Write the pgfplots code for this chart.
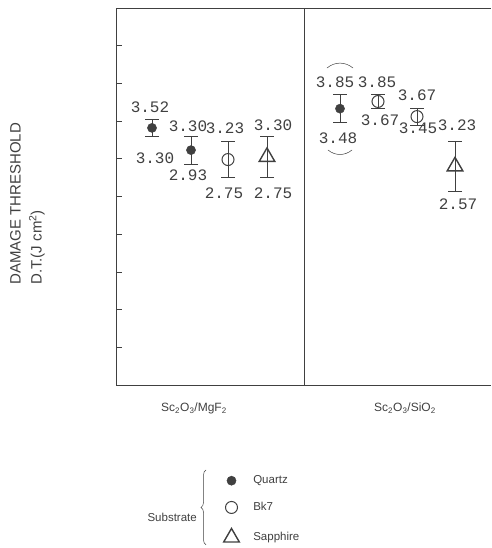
\documentclass[border=0pt]{standalone}
\usepackage{fontspec}
\setmainfont{Liberation Sans}
\newfontfamily\numfont{Liberation Mono}
\usepackage{pgfplots}
\pgfplotsset{compat=1.18}
\usetikzlibrary{decorations.pathreplacing}
\definecolor{ink}{gray}{0.25}
\begin{document}
\begin{tikzpicture}[lab/.style={font=\numfont\fontsize{16}{16}\selectfont, text=ink, inner sep=0pt}]
\path (0,0) rectangle (491pt,548pt);
\begin{axis}[
  at={(116pt,163pt)}, anchor=south west,
  scale only axis, width=375pt, height=377pt,
  xmin=116, xmax=491, ymin=0, ymax=5,
  axis lines=left, axis line style={-, ink, line width=0.7pt},
  clip=false,
  ytick={0.5,1,1.5,2,2.5,3,3.5,4,4.5}, yticklabels={},
  y tick style={ink, line width=0.7pt},
  ytick align=inside,
  major tick length=6pt,
  xtick={194,405},
  xticklabels={Sc\textsubscript{2}O\textsubscript{3}/MgF\textsubscript{2}, Sc\textsubscript{2}O\textsubscript{3}/SiO\textsubscript{2}},
  x tick style={draw=none},
  xticklabel style={font=\fontsize{12}{14}\selectfont, text=ink, yshift=-11pt},
  legend style={at={(axis description cs:0.2867,-0.238)}, anchor=north west,
    draw=none, fill=none, inner sep=0pt, row sep=15pt, column sep=13pt,
    font=\fontsize{11.5}{13}\selectfont, text=ink, nodes={inner sep=1pt}},
  legend cell align=left,
]
% Quartz
\addplot[only marks, mark=*, mark size=4.6pt, ink, mark options={fill=ink, draw=ink},
  error bars/.cd, y dir=both, y explicit,
  error bar style={line width=0.6pt, ink},
  error mark options={rotate=90, mark size=7pt, line width=0.6pt, ink}]
 coordinates {(152,3.41) +- (0,0.11) (191,3.115) +- (0,0.185) (340,3.665) +- (0,0.185)};
\addlegendentry{Quartz}
% Bk7
\addplot[only marks, mark=o, mark size=6pt, ink, mark options={line width=1pt, draw=ink, fill=none},
  error bars/.cd, y dir=both, y explicit,
  error bar style={line width=0.6pt, ink},
  error mark options={rotate=90, mark size=7pt, line width=0.6pt, ink}]
 coordinates {(228,2.99) +- (0,0.24) (378,3.76) +- (0,0.09) (417,3.56) +- (0,0.11)};
\addlegendentry{Bk7}
% Sapphire
\addplot[only marks, mark=triangle, mark size=9pt, ink, mark options={line width=1.4pt, draw=ink, fill=none},
  error bars/.cd, y dir=both, y explicit,
  error bar style={line width=0.6pt, ink},
  error mark options={rotate=90, mark size=7pt, line width=0.6pt, ink}]
 coordinates {(267,3.025) +- (0,0.275) (455,2.90) +- (0,0.33)};
\addlegendentry{Sapphire}
% frame parts
\draw[ink, line width=0.7pt] (rel axis cs:0,1) -- (rel axis cs:1,1);
\draw[ink, line width=0.6pt] (axis cs:304,0) -- (axis cs:304,5);
% value labels
\node[lab] at (axis cs:150,3.687) {3.52};
\node[lab] at (axis cs:155,3.011) {3.30};
\node[lab] at (axis cs:188,3.435) {3.30};
\node[lab] at (axis cs:188,2.785) {2.93};
\node[lab] at (axis cs:225,3.408) {3.23};
\node[lab] at (axis cs:224,2.546) {2.75};
\node[lab] at (axis cs:273,3.448) {3.30};
\node[lab] at (axis cs:273,2.546) {2.75};
\node[lab] at (axis cs:335,4.019) {3.85};
\node[lab] at (axis cs:338,3.276) {3.48};
\node[lab] at (axis cs:377,4.019) {3.85};
\node[lab] at (axis cs:380,3.515) {3.67};
\node[lab] at (axis cs:417,3.846) {3.67};
\node[lab] at (axis cs:418,3.40) {3.45};
\node[lab] at (axis cs:457,3.448) {3.23};
\node[lab] at (axis cs:458,2.401) {2.57};
% arcs
\draw[ink, line width=0.5pt] (axis cs:327,4.204) to[bend left=40] (axis cs:353,4.204);
\draw[ink, line width=0.5pt] (axis cs:328,3.117) to[bend right=40] (axis cs:352,3.117);
% y label
\node[rotate=90, anchor=north west, align=left, inner sep=0pt, text=ink,
  font=\fontsize{15}{21}\selectfont] at (axis cs:10,1.326)
  {DAMAGE THRESHOLD\\D.T.(J cm\textsuperscript{2})};
% substrate brace
\draw[ink, line width=0.5pt, decorate, decoration={brace, amplitude=5pt}]
  (axis cs:206,-2.12) -- (axis cs:206,-1.127);
\node[anchor=east, inner sep=0pt, text=ink, font=\fontsize{11.5}{13}\selectfont]
  at (axis cs:197,-1.75) {Substrate};
\end{axis}
\end{tikzpicture}
\end{document}
